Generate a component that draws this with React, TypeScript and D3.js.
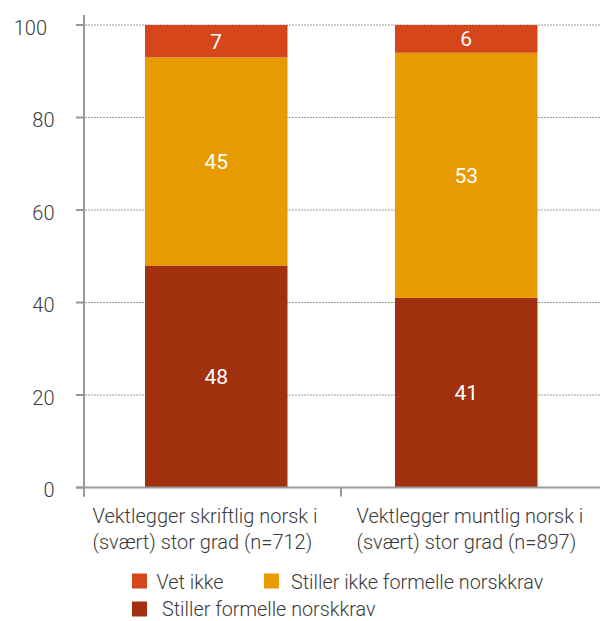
import React from "react";
import * as d3 from "d3";

// ---- data ----
const categories = ["skriftlig", "muntlig"];
const categoryLines = [
  ["Vektlegger skriftlig norsk i", "(svært) stor grad (n=712)"],
  ["Vektlegger muntlig norsk i", "(svært) stor grad (n=897)"],
];
const seriesNames = ["Stiller formelle norskkrav", "Stiller ikke formelle norskkrav", "Vet ikke"];
const stillerFormelle = [48, 41];
const stillerIkke = [45, 53];
const vetIkke = [7, 6];
const yTicks = [0, 20, 40, 60, 80, 100];
const colors = ["#A0300E", "#E89B00", "#D5461A"];

const FONT = "Roboto, 'Open Sans', sans-serif";

export default function App() {
  const W = 600;
  const H = 621;
  const axisX = 84;
  const y = d3.scaleLinear().domain([0, 100]).range([487.5, 25]);
  const x = d3
    .scaleBand<string>()
    .domain(categories)
    .range([84, 598.5])
    .paddingInner(0.43)
    .paddingOuter(0.244);

  const rows = categories.map((c, i) => ({
    cat: c,
    [seriesNames[0]]: stillerFormelle[i],
    [seriesNames[1]]: stillerIkke[i],
    [seriesNames[2]]: vetIkke[i],
  }));
  const stack = d3.stack<any>().keys(seriesNames)(rows);

  const axisColor = "#999999";
  const textColor = "#3a3a3a";
  const catBoundaries = [84, 341];
  const labelX = [92.5, 356.5];

  const legend = [
    { name: "Vet ikke", color: colors[2], sx: 132, sy: 573.5, tx: 156.5, ty: 589 },
    { name: "Stiller ikke formelle norskkrav", color: colors[1], sx: 264, sy: 573.5, tx: 291, ty: 589 },
    { name: "Stiller formelle norskkrav", color: colors[0], sx: 132, sy: 601.5, tx: 162, ty: 616 },
  ];

  return (
    <svg width={W} height={H} style={{ display: "block", position: "absolute", left: 0, top: 0 }}>
      <rect x={0} y={0} width={W} height={H} fill="#ffffff" />
      {/* gridlines */}
      {yTicks
        .filter((t) => t > 0)
        .map((t) => (
          <line
            key={"g" + t}
            x1={axisX + 1}
            x2={600}
            y1={y(t)}
            y2={y(t)}
            stroke="#9a9a9a"
            strokeWidth={1.2}
            strokeDasharray="2,1"
          />
        ))}
      {/* bars */}
      {stack.map((layer, si) =>
        layer.map((d, ci) => (
          <rect
            key={si + "-" + ci}
            x={x(categories[ci])}
            width={x.bandwidth()}
            y={y(d[1])}
            height={y(d[0]) - y(d[1])}
            fill={colors[si]}
          />
        ))
      )}
      {/* value labels */}
      {stack.map((layer, si) =>
        layer.map((d, ci) => (
          <text
            key={"v" + si + "-" + ci}
            x={(x(categories[ci]) as number) + x.bandwidth() / 2}
            y={(y(d[0]) + y(d[1])) / 2 + 7.5}
            textAnchor="middle"
            fill="#ffffff"
            fontFamily={FONT}
            fontSize={21}
          >
            {d[1] - d[0]}
          </text>
        ))
      )}
      {/* y axis */}
      <line x1={axisX} x2={axisX} y1={15} y2={496.5} stroke={axisColor} strokeWidth={2} />
      {yTicks.map((t) => (
        <g key={"t" + t}>
          <line x1={76} x2={axisX} y1={y(t)} y2={y(t)} stroke={axisColor} strokeWidth={2} />
          <text
            x={t === 100 ? 47 : 54.5}
            y={y(t) + 9.5}
            textAnchor="end"
            fontFamily={FONT}
            fontWeight={300}
            fontSize={20}
            fill={textColor}
          >
            {t}
          </text>
        </g>
      ))}
      {/* x axis */}
      <line x1={76} x2={600} y1={y(0)} y2={y(0)} stroke={axisColor} strokeWidth={2} />
      {catBoundaries.map((bx, i) => (
        <line key={"xb" + i} x1={bx} x2={bx} y1={y(0)} y2={496.5} stroke={axisColor} strokeWidth={2} />
      ))}
      {categoryLines.map((lines, i) => (
        <text key={"c" + i} fontFamily={FONT} fontWeight={300} fontSize={20} fill={textColor}>
          {lines.map((ln, j) => (
            <tspan key={j} x={labelX[i]} y={522.7 + j * 26.5}>
              {ln}
            </tspan>
          ))}
        </text>
      ))}
      {/* legend */}
      {legend.map((l) => (
        <g key={l.name}>
          <rect x={l.sx} y={l.sy} width={15} height={15} fill={l.color} />
          <text x={l.tx} y={l.ty} fontFamily={FONT} fontWeight={300} fontSize={19.8} fill={textColor}>
            {l.name}
          </text>
        </g>
      ))}
    </svg>
  );
}
